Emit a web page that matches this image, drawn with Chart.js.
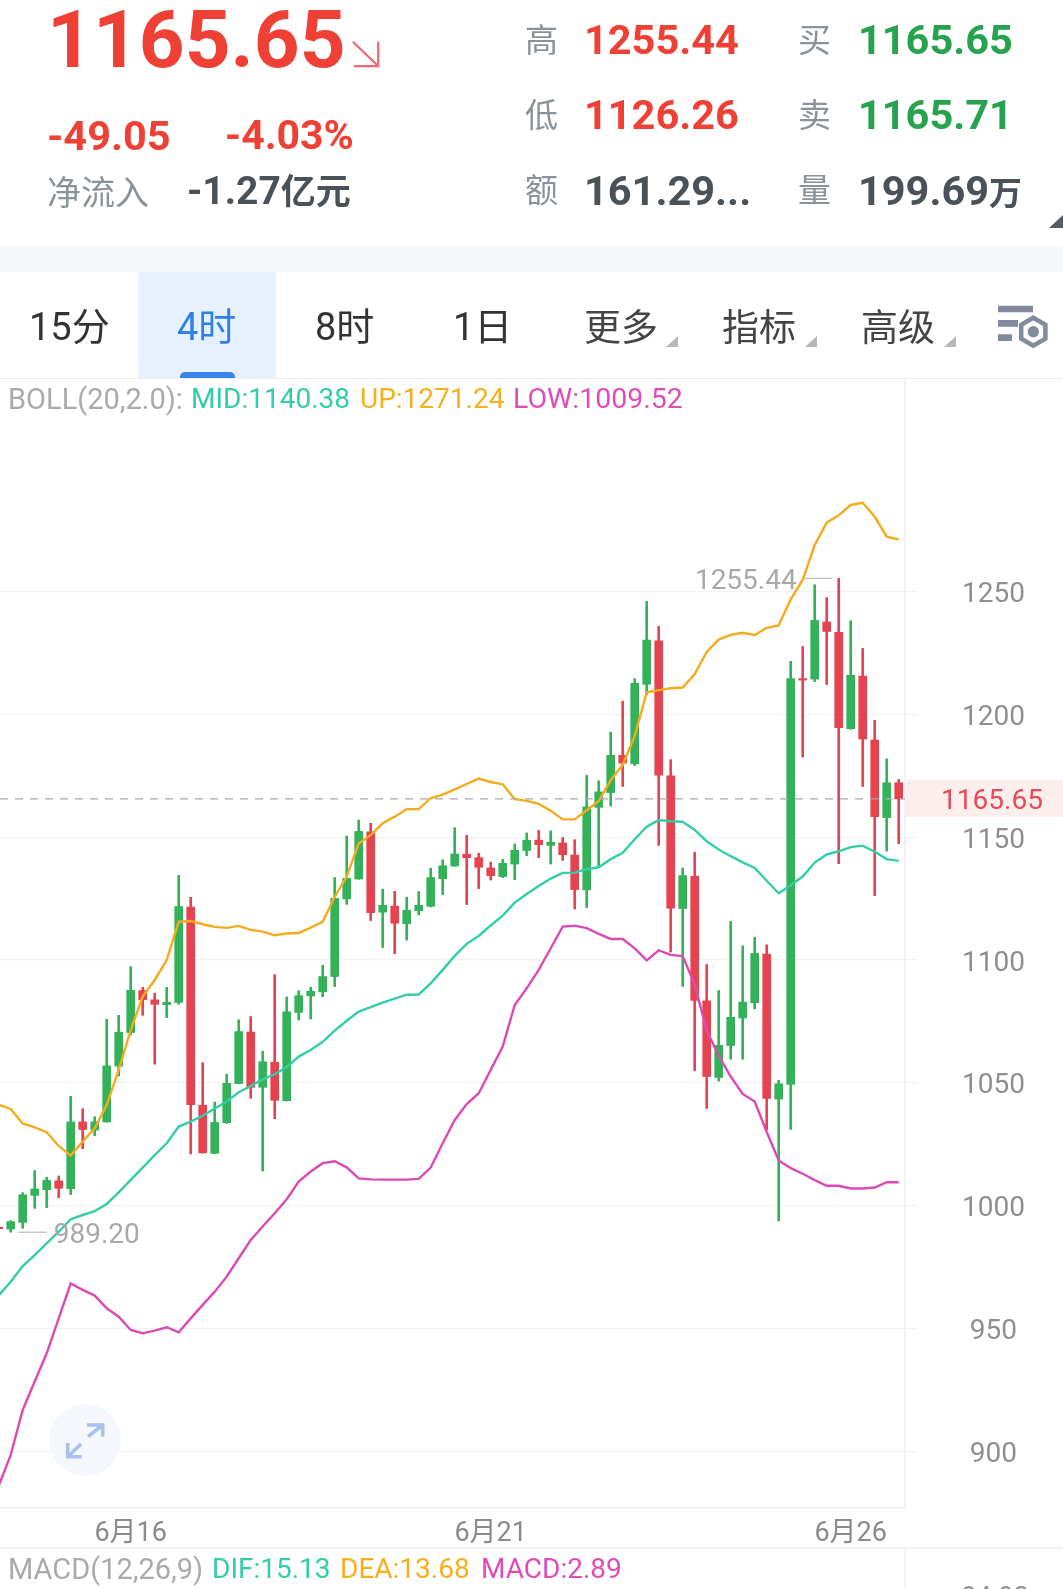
<!DOCTYPE html>
<html lang="zh">
<head>
<meta charset="utf-8">
<title>K线</title>
<script src="https://cdn.jsdelivr.net/npm/chart.js@4/dist/chart.umd.min.js"></script>
<style>
  html, body { margin: 0; padding: 0; background: #fff; }
  body { position: relative; width: 1063px; height: 1589px; overflow: hidden;
         font-family: Roboto, 'Noto Sans CJK SC', sans-serif; }
  canvas { position: absolute; left: 0; top: 0; }
  .t { position: absolute; white-space: nowrap; line-height: 1; }
  .b { font-weight: 700; }
  .red { color: #ee4035; }
  .green { color: #27a24f; }
  .dark { color: #4b5158; }
  .label { color: #8a929c; font-size: 33px; font-family: 'Noto Sans CJK SC', sans-serif; }
  .tab { color: #333; font-size: 38px; top: 305px; }
  .legend { font-size: 28px; }
  .box { position: absolute; }
  .arrow { position: absolute; width: 0; height: 0; border-style: solid; border-width: 0 0 11px 12px; border-color: transparent transparent #b5b8bd transparent; top: 336px; }
</style>
</head>
<body>
<canvas id="kline" width="1063" height="1589"></canvas>

<!-- quote header -->
<div class="t b red" style="left:47px;top:0;font-size:80px">1165.65</div>
<svg class="box" style="left:350px;top:39px" width="32" height="30" viewBox="0 0 34 32" fill="none" stroke="#ef6a72" stroke-width="2.4">
  <path d="M3 3 L29 28 M30 3 V29 H4"/>
</svg>
<div class="t b red" style="left:47px;top:115px;font-size:41.5px">-49.05</div>
<div class="t b red" style="left:225px;top:115px;font-size:41px">-4.03%</div>
<div class="t label" style="left:47px;top:174px;font-size:34px">净流入</div>
<div class="t b dark" style="left:187px;top:171px;font-size:39px">-1.27<span style="font-family:'Noto Sans CJK SC';font-size:35px">亿元</span></div>

<div class="t label" style="left:525px;top:22px">高</div>
<div class="t b red" style="left:584px;top:19px;font-size:41.5px">1255.44</div>
<div class="t label" style="left:798px;top:22px">买</div>
<div class="t b green" style="left:858px;top:19px;font-size:41.5px">1165.65</div>
<div class="t label" style="left:525px;top:97px">低</div>
<div class="t b red" style="left:584px;top:94px;font-size:41.5px">1126.26</div>
<div class="t label" style="left:798px;top:97px">卖</div>
<div class="t b green" style="left:858px;top:94px;font-size:41.5px">1165.71</div>
<div class="t label" style="left:525px;top:172px">额</div>
<div class="t b dark" style="left:584px;top:170px;font-size:41.5px">161.29...</div>
<div class="t label" style="left:798px;top:172px">量</div>
<div class="t b dark" style="left:858px;top:170px;font-size:41.5px">199.69<span style="font-family:'Noto Sans CJK SC';font-size:33px">万</span></div>
<svg class="box" style="left:1049px;top:215px" width="14" height="13"><path d="M14 0 V13 H0 Z" fill="#565c66"/></svg>

<!-- period tabs -->
<div class="box" style="left:0;top:246px;width:1063px;height:26px;background:#f6f7f9"></div>
<div class="box" style="left:138px;top:272px;width:138px;height:106px;background:#e7f1fd"></div>
<div class="box" style="left:180px;top:372px;width:55px;height:6px;background:#3a82ef;border-radius:5px 5px 0 0"></div>
<div class="box" style="left:0;top:378px;width:1063px;height:1px;background:#eee"></div>
<div class="t tab" style="left:29px">15<span style="font-family:'Noto Sans CJK SC'">分</span></div>
<div class="t tab" style="left:177px;color:#2f80ed">4<span style="font-family:'Noto Sans CJK SC'">时</span></div>
<div class="t tab" style="left:315px">8<span style="font-family:'Noto Sans CJK SC'">时</span></div>
<div class="t tab" style="left:453px">1<span style="font-family:'Noto Sans CJK SC'">日</span></div>
<div class="t tab" style="left:584px;top:307px;font-family:'Noto Sans CJK SC';font-size:37px;color:#444">更多</div>
<div class="arrow" style="left:666px"></div>
<div class="t tab" style="left:722px;top:307px;font-family:'Noto Sans CJK SC';font-size:37px;color:#444">指标</div>
<div class="arrow" style="left:805px"></div>
<div class="t tab" style="left:861px;top:307px;font-family:'Noto Sans CJK SC';font-size:37px;color:#444">高级</div>
<div class="arrow" style="left:944px"></div>
<svg class="box" style="left:998px;top:304px" width="52" height="46" viewBox="0 0 52 46">
  <path d="M0 1.7 H35 V8.3 H0 Z M0 16 H20 V22.7 H0 Z M0 30.3 H14 V37 H0 Z" fill="#828a9b"/>
  <path d="M35.3 13.7 L47.4 20.7 V34.7 L35.3 41.7 L23.2 34.7 V20.7 Z" fill="none" stroke="#828a9b" stroke-width="4.5"/>
  <circle cx="35.3" cy="27.7" r="5.7" fill="#828a9b"/>
</svg>

<!-- indicator legends -->
<div class="t legend" style="left:8px;top:385px;color:#aaa;font-size:29px">BOLL(20,2.0):</div>
<div class="t legend" style="left:191px;top:385px;color:#33cda9">MID:1140.38</div>
<div class="t legend" style="left:360px;top:385px;color:#f6b01e">UP:1271.24</div>
<div class="t legend" style="left:513px;top:385px;color:#e04bb9;font-size:28.5px">LOW:1009.52</div>

<div class="t legend" style="left:8px;top:1555px;color:#aaa;font-size:29px">MACD(12,26,9)</div>
<div class="t legend" style="left:212px;top:1555px;color:#33cda9">DIF:15.13</div>
<div class="t legend" style="left:340px;top:1555px;color:#f6b01e">DEA:13.68</div>
<div class="t legend" style="left:481px;top:1555px;color:#e04bb9">MACD:2.89</div>
<div class="t" style="left:961px;top:1584px;font-size:27px;color:#8f8f8f">84.93</div>

<!-- fullscreen button -->
<svg class="box" style="left:48px;top:1403px" width="74" height="74" viewBox="0 0 74 74" fill="none">
  <circle cx="37" cy="37" r="36" fill="#f3f7fc" fill-opacity="0.9"/>
  <path d="M39 22 H54.7 V33.7 M54 22.5 L40 33.7 M19.7 40 V53.7 H33.7 M20.5 53 L33 41" stroke="#a9c1ef" stroke-width="3.6"/>
</svg>

<script>
'use strict';

// 4h candles; the first one sits just past the left edge of the plot
const firstCandle = -1;

const opens = [
  991.3, 990.5, 993.2, 1004.2, 1006.5, 1010.1, 1006.9, 1034.1, 1030.8, 1034.1,
  1056.9, 1070.5, 1087.6, 1083.8, 1081.9, 1082.8, 1121.6, 1040.9, 1021.3, 1033.8,
  1049.7, 1070.7, 1048.2, 1058.4, 1042.8, 1078.7, 1085.4, 1087.1, 1093.3, 1124.9,
  1133, 1152.2, 1119.5, 1122, 1114.8, 1120.1, 1121.9, 1133.1, 1138.3, 1143.1,
  1141.7, 1137.5, 1134, 1139.1, 1144.6, 1148.8, 1146.7, 1147.7, 1142.8, 1128.6,
  1162.2, 1168.2, 1183.4, 1179.9, 1212.3, 1230, 1175, 1121, 1134.1, 1083.4,
  1052.2, 1065.2, 1076.4, 1082.6, 1102.4, 1043.4, 1049.4, 1214.6, 1214.4, 1237.7,
  1233.4, 1194.2, 1215.6, 1189.6, 1158, 1172.2
];
const closes = [
  990.6, 993.5, 1004.4, 1006.8, 1010.3, 1007.1, 1034.1, 1031, 1034.1, 1056.9,
  1070.6, 1087.7, 1083.9, 1082, 1082.8, 1121.8, 1041.1, 1021.5, 1033.9, 1049.8,
  1070.9, 1048.2, 1058.6, 1042.9, 1078.9, 1085.5, 1087.3, 1093.3, 1125.1, 1133.3,
  1152.4, 1119.3, 1122.3, 1115, 1120.3, 1122.3, 1133.6, 1138.4, 1143.2, 1141.7,
  1137.8, 1134.4, 1139.4, 1144.7, 1148.8, 1147, 1148, 1142.9, 1128.7, 1162.4,
  1168.5, 1183.4, 1180.2, 1212.7, 1230.3, 1175.3, 1121.1, 1134.4, 1083.6, 1052.6,
  1065.3, 1076.7, 1082.9, 1102.7, 1043.7, 1049.6, 1214.6, 1214, 1238.3, 1233.8,
  1194.6, 1216, 1190, 1158.4, 1172.2, 1165.65
];
const highs = [
  991.5, 993.9, 1005.3, 1014.3, 1011.6, 1012.1, 1044.5, 1039.5, 1036.2, 1075.9,
  1077.5, 1097.3, 1088.9, 1086.5, 1088.9, 1134.5, 1125.6, 1058.2, 1042.2, 1053.5,
  1075.7, 1077, 1062.9, 1094.1, 1085, 1087.5, 1088.9, 1097.9, 1133.6, 1150.5,
  1157, 1155.7, 1128.9, 1128, 1125.6, 1127.9, 1137.4, 1140.8, 1153.9, 1150.8,
  1143.5, 1139.9, 1141, 1147.3, 1151.8, 1152.8, 1152.6, 1149.9, 1149, 1175.2,
  1173, 1192.8, 1205.4, 1214.6, 1246.1, 1235.9, 1181.6, 1137.5, 1143.9, 1098.2,
  1087.6, 1115.8, 1105.8, 1109.3, 1106.2, 1051, 1221.6, 1227.7, 1252.8, 1247.6,
  1255.44, 1238.2, 1226.9, 1197.6, 1181.9, 1173.5
];
const lows = [
  990.3, 989.2, 990.8, 998.9, 999.2, 1003.3, 1004.5, 1023.2, 1028.5, 1034,
  1052.8, 1069.5, 1077.5, 1057.6, 1076.6, 1082, 1021.1, 1021.4, 1021.2, 1033.5,
  1049.6, 1043.7, 1014.1, 1035.4, 1042.6, 1075.6, 1076, 1085.1, 1089.2, 1122.7,
  1132.9, 1116.1, 1105.1, 1102.6, 1108.1, 1118.4, 1121.6, 1126.6, 1138.2, 1122.6,
  1129.1, 1132.6, 1133.6, 1132.7, 1142.5, 1141.7, 1139.1, 1140.6, 1120.8, 1121.4,
  1137.8, 1162.7, 1170.7, 1179.2, 1208.1, 1146.7, 1103.3, 1089.3, 1054.9, 1039.6,
  1050.7, 1059.6, 1059.6, 1080.1, 1030.9, 993.8, 1031, 1182.7, 1213.4, 1212.2,
  1139.3, 1194, 1170.7, 1126.26, 1144.4, 1147.4
];

// BOLL(20,2.0)
const bollMid = [
  963.5, 969, 975.4, 979.9, 984.7, 989.4, 994.5, 996.2, 997.8, 1000.7,
  1005.4, 1010.5, 1015.5, 1020.6, 1025.4, 1032.2, 1034.2, 1036.6, 1039.6, 1042.4,
  1046.2, 1048.7, 1051.4, 1053.5, 1056.5, 1060.7, 1063.4, 1066.7, 1071.3, 1075.3,
  1079, 1080.8, 1082.7, 1084.3, 1085.9, 1086, 1090.5, 1096, 1101.7, 1106.6,
  1109.8, 1114.1, 1118.1, 1123.4, 1126.9, 1130.2, 1133.2, 1135.5, 1135.6, 1137,
  1137.8, 1141.1, 1143.7, 1149.2, 1154.3, 1157, 1156.5, 1156.3, 1153, 1148.4,
  1145, 1142.3, 1139.8, 1137.5, 1132.3, 1127.2, 1130.5, 1134, 1139.7, 1143,
  1144.3, 1146, 1146.6, 1144.1, 1141.1, 1140.38
];
const bollUp = [
  1041.1, 1039.4, 1033.5, 1031.9, 1029.9, 1024.3, 1020.4, 1026.1, 1031.5, 1041,
  1055.3, 1071.5, 1085.1, 1091.9, 1100, 1115.6, 1115.9, 1114.6, 1113.5, 1113.1,
  1113.9, 1112.3, 1111.6, 1110.1, 1110.8, 1111, 1113.2, 1115.6, 1125.8, 1134,
  1147.5, 1150.9, 1155.7, 1158.4, 1161.4, 1161.5, 1165.9, 1167.4, 1169.5, 1171.7,
  1173.9, 1172.5, 1171.6, 1165.5, 1164.8, 1163.6, 1160.8, 1157.3, 1157.3, 1161,
  1164.7, 1173.3, 1179.5, 1191.2, 1209, 1209.9, 1210.7, 1211, 1216.5, 1225.5,
  1230.5, 1232.4, 1233.3, 1232.4, 1235.3, 1236.3, 1246.9, 1254.8, 1269, 1278.1,
  1281.1, 1285.3, 1286.2, 1280.5, 1272.4, 1271.24
];
const bollLow = [
  885.9, 898.5, 916.8, 928.4, 939.9, 954.1, 968.3, 965.7, 963.4, 958.2,
  954.8, 949.4, 948, 949.1, 950.5, 948.4, 954.1, 959.6, 965, 971.1,
  978.6, 986, 991.5, 996.9, 1002.6, 1009.8, 1013.9, 1017.3, 1018.1, 1015.6,
  1011.1, 1010.7, 1010.6, 1010.6, 1010.6, 1010.9, 1015.5, 1025.4, 1034.9, 1041.4,
  1045.8, 1055.3, 1064.8, 1081.7, 1088.5, 1096, 1104.8, 1113.6, 1114, 1113,
  1110.7, 1108.6, 1108.6, 1104.8, 1099.9, 1104, 1102.1, 1101.6, 1090, 1071.3,
  1061.1, 1052.6, 1045.5, 1042.4, 1030, 1018.4, 1015.3, 1013, 1010.4, 1008.1,
  1008.1, 1007, 1007, 1007.4, 1009.6, 1009.52
];

const yTicks = [900, 950, 1000, 1050, 1100, 1150, 1200, 1250];
const dateTicks = [10, 40, 70];
const dateLabels = ['6月16', '6月21', '6月26'];

const UP_COLOR = '#34b25a';
const DOWN_COLOR = '#e5434f';
const GRID_COLOR = '#f2f2f2';
const TEXT_FONT = "Roboto, 'Noto Sans CJK SC', sans-serif";
const TEXT_NUDGE = 3.5;   // canvas 'middle' sits a little high for these digits

const candleX = i => i + firstCandle;
const candleColors = opens.map((o, i) => (closes[i] >= o ? UP_COLOR : DOWN_COLOR));

const lineSet = (values, color) => ({
  type: 'line',
  data: values.map((y, i) => ({ x: candleX(i), y })),
  borderColor: color,
  borderWidth: 2.4,
  pointRadius: 0,
  tension: 0,
  order: 0,
});

// current price line and tag, plus the high / low markers
const overlayPlugin = {
  id: 'overlay',
  afterDatasetsDraw(chart) {
    const { ctx, chartArea: area, scales: { x, y } } = chart;
    const last = closes[closes.length - 1];
    const py = y.getPixelForValue(last);

    ctx.save();
    ctx.strokeStyle = '#aaa';
    ctx.lineWidth = 1.4;
    ctx.setLineDash([8, 7]);
    ctx.beginPath();
    ctx.moveTo(area.left, py);
    ctx.lineTo(area.right, py);
    ctx.stroke();
    ctx.setLineDash([]);

    ctx.font = '28px ' + TEXT_FONT;
    ctx.textBaseline = 'middle';
    ctx.fillStyle = '#a9a9a9';
    ctx.strokeStyle = '#b0b0b0';
    ctx.lineWidth = 1;

    const hi = highs.indexOf(Math.max(...highs));
    const hx = x.getPixelForValue(candleX(hi));
    const hy = y.getPixelForValue(highs[hi]);
    ctx.beginPath();
    ctx.moveTo(hx - 6, hy);
    ctx.lineTo(hx - 34, hy);
    ctx.stroke();
    ctx.textAlign = 'right';
    ctx.fillText(highs[hi].toFixed(2), hx - 42, hy + TEXT_NUDGE);

    const lo = lows.indexOf(Math.min(...lows));
    const lx = x.getPixelForValue(candleX(lo));
    const ly = y.getPixelForValue(lows[lo]);
    ctx.beginPath();
    ctx.moveTo(lx + 7, ly);
    ctx.lineTo(lx + 36, ly);
    ctx.stroke();
    ctx.textAlign = 'left';
    ctx.fillText(lows[lo].toFixed(2), lx + 43, ly + TEXT_NUDGE);
    ctx.restore();
  },
  afterDraw(chart) {
    const { ctx, chartArea: area, scales: { y }, width } = chart;
    const last = closes[closes.length - 1];
    const py = y.getPixelForValue(last);
    ctx.save();
    ctx.fillStyle = '#fdeeee';
    ctx.fillRect(area.right + 1, py - 19, width - area.right, 37);
    ctx.fillStyle = '#e54a55';
    ctx.font = '28px ' + TEXT_FONT;
    ctx.textAlign = 'center';
    ctx.textBaseline = 'middle';
    ctx.fillText(last.toFixed(2), 992, py + TEXT_NUDGE);
    // pane divider that carries on below the date axis
    ctx.strokeStyle = '#efefef';
    ctx.lineWidth = 1.5;
    ctx.beginPath();
    ctx.moveTo(0, 1548);
    ctx.lineTo(width, 1548);
    ctx.moveTo(area.right, 1548);
    ctx.lineTo(area.right, 1589);
    ctx.stroke();
    ctx.restore();
  },
};

new Chart(document.getElementById('kline'), {
  type: 'bar',
  data: {
    datasets: [
      lineSet(bollUp, '#f5ab1c'),
      lineSet(bollMid, '#33cdaa'),
      lineSet(bollLow, '#dc4ab4'),
      {
        // candle bodies
        data: opens.map((o, i) => ({ x: candleX(i), y: [o, closes[i]] })),
        backgroundColor: candleColors,
        barThickness: 8,
        grouped: false,
        order: 1,
      },
      {
        // wicks
        data: lows.map((l, i) => ({ x: candleX(i), y: [l, highs[i]] })),
        backgroundColor: candleColors,
        barThickness: 2,
        grouped: false,
        order: 2,
      },
    ],
  },
  options: {
    responsive: false,
    animation: false,
    events: [],
    layout: { padding: { top: 379, bottom: 40, left: 0, right: 0 } },
    plugins: { legend: { display: false }, tooltip: { enabled: false } },
    scales: {
      x: {
        type: 'linear',
        offset: false,
        min: -0.892,
        max: 74.525,
        afterFit: s => { s.height = 41; },
        afterBuildTicks: s => { s.ticks = dateTicks.map(value => ({ value })); },
        grid: { display: false },
        border: { color: '#efefef', width: 1.5 },
        ticks: {
          autoSkip: false,
          maxRotation: 0,
          padding: 2,
          color: '#8a8a8a',
          font: { family: TEXT_FONT, size: 27 },
          callback: v => dateLabels[dateTicks.indexOf(v)],
        },
      },
      y: {
        position: 'right',
        min: 876.9,
        max: 1336.6,
        beginAtZero: false,
        afterFit: s => { s.width = 158; },
        afterBuildTicks: s => { s.ticks = yTicks.map(value => ({ value })); },
        grid: { color: GRID_COLOR, tickLength: 12, lineWidth: 1.2 },
        border: { color: '#efefef', width: 1.5 },
        ticks: {
          crossAlign: 'center',
          padding: 45,
          labelOffset: TEXT_NUDGE,
          color: '#8f8f8f',
          font: { family: TEXT_FONT, size: 28 },
          callback: v => String(v),
        },
      },
    },
  },
  plugins: [overlayPlugin],
});
</script>
</body>
</html>
